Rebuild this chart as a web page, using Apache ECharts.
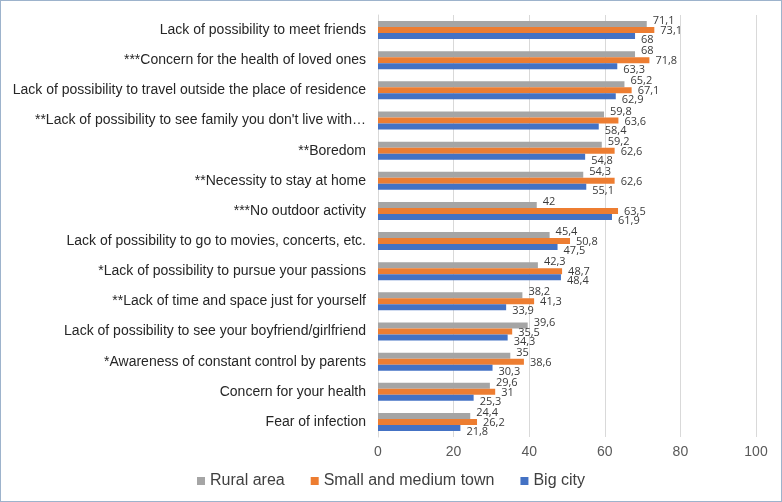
<!DOCTYPE html>
<html><head><meta charset="utf-8">
<script src="https://cdn.jsdelivr.net/npm/echarts@6/dist/echarts.min.js"></script>
<style>
html,body{margin:0;padding:0;background:#fff;}
#c{width:782px;height:502px;box-sizing:border-box;border:1px solid #9db3cc;}
</style></head>
<body><div id="c"></div>
<script>
const categories = [
  "Lack of possibility to meet friends",
  "***Concern for the health of loved ones",
  "Lack of possibility to travel outside the place of residence",
  "**Lack of possibility to see family you don't live with…",
  "**Boredom",
  "**Necessity to stay at home",
  "***No outdoor activity",
  "Lack of possibility to go to movies, concerts, etc.",
  "*Lack of possibility to pursue your passions",
  "**Lack of time and space just for yourself",
  "Lack of possibility to see your boyfriend/girlfriend",
  "*Awareness of constant control by parents",
  "Concern for your health",
  "Fear of infection"
];
const rural = [71.1, 68, 65.2, 59.8, 59.2, 54.3, 42, 45.4, 42.3, 38.2, 39.6, 35, 29.6, 24.4];
const smallTown = [73.1, 71.8, 67.1, 63.6, 62.6, 62.6, 63.5, 50.8, 48.7, 41.3, 35.5, 38.6, 31, 26.2];
const bigCity = [68, 63.3, 62.9, 58.4, 54.8, 55.1, 61.9, 47.5, 48.4, 33.9, 34.3, 30.3, 25.3, 21.8];
const xTicks = [0, 20, 40, 60, 80, 100];

const fmt = p => String(p.value).replace('.', ',');
function mk(name, data, color, dy) {
  return {
    name, type: 'bar', data, barWidth: 6, barGap: '0%',
    itemStyle: { color },
    label: { show: true, position: 'right', distance: 6, offset: [0, dy],
      formatter: fmt, fontFamily: 'Open Sans', fontSize: 11, color: '#3a3a3a' }
  };
}
const chart = echarts.init(document.getElementById('c'));
chart.setOption({
  animation: false,
  grid: { left: 377, right: 25, top: 14, bottom: 64, containLabel: false },
  legend: {
    bottom: 7, left: 'center', itemWidth: 8, itemHeight: 8, itemGap: 26,
    icon: 'rect',
    textStyle: { fontFamily: 'Liberation Sans', fontSize: 16, color: '#404040' },
    data: ['Rural area', 'Small and medium town', 'Big city']
  },
  xAxis: {
    type: 'value', min: xTicks[0], max: xTicks[xTicks.length - 1], interval: 20,
    axisLine: { show: false }, axisTick: { show: false },
    splitLine: { lineStyle: { color: '#d9d9d9' } },
    axisLabel: { fontFamily: 'Liberation Sans', fontSize: 14, color: '#595959', margin: 8 }
  },
  yAxis: {
    type: 'category', data: categories, inverse: true,
    axisLine: { show: true, lineStyle: { color: '#d9d9d9' } }, axisTick: { show: false },
    axisLabel: { fontFamily: 'Liberation Sans', fontSize: 14, color: '#262626', margin: 12 }
  },
  series: [
    mk('Rural area', rural, '#a5a5a5', -3),
    mk('Small and medium town', smallTown, '#ed7d31', 1),
    mk('Big city', bigCity, '#4472c4', 4)
  ]
});
</script></body></html>
